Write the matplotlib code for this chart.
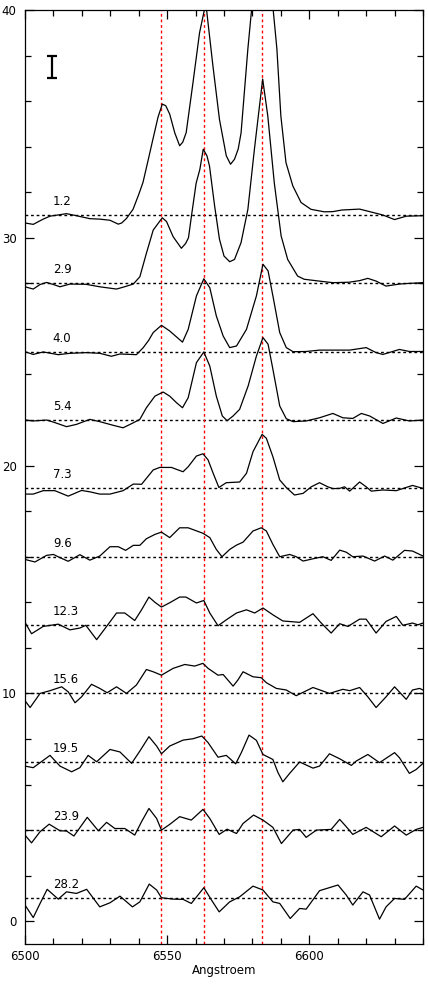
import numpy as np
import matplotlib
matplotlib.use('Agg')
import matplotlib.pyplot as plt
from matplotlib.ticker import MultipleLocator

# baseline offsets and labels of the stacked spectra
offsets = [31, 28, 25, 22, 19, 16, 13, 10, 7, 4, 1]
labels = ['1.2', '2.9', '4.0', '5.4', '7.3', '9.6', '12.3', '15.6', '19.5', '23.9', '28.2']

# line positions (Angstroem)
lines_black = [6548.0, 6562.8]
line_red = 6583.4

# spectra: wavelength, flux relative to baseline
w1 = [6500, 6502.9, 6506.4, 6508.8, 6511.5, 6514.6, 6518.1, 6522.8, 6526.3, 6529.9, 6532.8, 6534.0,
      6535.7, 6538.0, 6540.0, 6541.5, 6543.3, 6545.0, 6546.8, 6548.3, 6549.5, 6550.9, 6552.7, 6554.4,
      6555.5, 6556.7, 6559.1, 6561.4, 6563.6, 6566.1, 6568.4, 6570.8, 6572.3, 6573.7, 6575.0, 6576.0,
      6578.4, 6583.5, 6588.6, 6590.0, 6591.8, 6594.2, 6597.1, 6600.6, 6605.3, 6608.3, 6611.5, 6617.7,
      6621.2, 6625.9, 6630.0, 6634.1, 6640]
f1 = [-0.35, -0.41, -0.18, -0.05, 0.0, 0.06, -0.03, -0.16, -0.18, -0.23, -0.40, -0.35,
      -0.15, 0.25, 0.9, 1.43, 2.4, 3.33, 4.3, 4.87, 4.8, 4.43, 3.6, 3.04,
      3.2, 3.62, 5.82, 8.0, 9.3, 6.55, 4.2, 2.6, 2.23, 2.45, 2.9, 3.6,
      7.3, 14.0, 7.3, 4.35, 2.3, 1.28, 0.55, 0.25, 0.14, 0.15, 0.22, 0.26,
      0.15, 0.0, -0.2, -0.05, -0.03]

w2 = [6500, 6502.9, 6505.3, 6507.6, 6510.0, 6512.3, 6515.8, 6521.4, 6526.3, 6532.2, 6535.0, 6538.1,
      6540.4, 6542.7, 6545.1, 6548.3, 6549.8, 6552.1, 6555.0, 6556.5, 6557.5, 6558.6, 6560.2, 6561.5,
      6562.7, 6564.0, 6564.9, 6566.7, 6568.4, 6570.0, 6572.0, 6573.7, 6576.0, 6578.4, 6580.7, 6583.6,
      6585.4, 6587.7, 6590.1, 6592.4, 6595.9, 6598.2, 6603.5, 6608.3, 6614.0, 6617.7, 6620.6, 6623.5,
      6627.0, 6631.7, 6635.2, 6640]
f2 = [-0.15, -0.25, -0.05, 0.04, -0.05, -0.15, -0.03, -0.04, -0.15, -0.25, -0.15, -0.03,
      0.29, 1.32, 2.34, 2.88, 2.71, 2.05, 1.54, 1.75, 2.0, 3.0, 4.4, 5.0,
      5.89, 5.6, 5.15, 3.4, 1.94, 1.2, 0.95, 1.05, 1.79, 3.25, 5.89, 8.97,
      7.35, 4.4, 2.08, 1.05, 0.32, 0.18, 0.1, 0.03, 0.05, 0.12, 0.22, 0.1,
      -0.12, -0.03, 0.0, 0.03]

w3 = [6500, 6502.9, 6506.4, 6511.7, 6515.8, 6521.7, 6526.3, 6530.4, 6533.4, 6539.2, 6541.6, 6543.5,
      6545.1, 6548.0, 6550.9, 6555.4, 6557.4, 6560.3, 6562.9, 6565.0, 6567.3, 6569.7, 6572.0, 6574.4,
      6577.9, 6581.4, 6583.7, 6585.5, 6587.2, 6589.6, 6591.9, 6594.3, 6598.9, 6603.6, 6608.3, 6614.2,
      6620.0, 6623.5, 6625.9, 6631.7, 6635.2, 6640]
f3 = [0.0, -0.12, -0.01, -0.13, -0.07, -0.04, -0.07, -0.2, -0.10, -0.13, 0.18, 0.5,
      0.84, 1.16, 0.91, 0.42, 0.98, 2.45, 3.2, 2.81, 1.57, 0.69, 0.18, 0.25,
      0.98, 2.45, 3.84, 3.55, 2.45, 0.84, 0.18, 0.0, 0.01, 0.07, 0.07, 0.07,
      0.18, -0.04, -0.12, 0.1, 0.01, 0.01]

w4 = [6500, 6502.9, 6507.6, 6510.0, 6514.6, 6518.1, 6522.8, 6526.3, 6531.0, 6534.5, 6538.1, 6540.4,
      6542.7, 6545.7, 6548.6, 6550.9, 6553.3, 6555.4, 6557.4, 6560.3, 6562.9, 6565.0, 6567.3, 6569.4,
      6571.1, 6573.2, 6575.5, 6578.5, 6581.4, 6583.7, 6585.5, 6587.2, 6589.6, 6591.9, 6594.3, 6598.9,
      6603.6, 6608.3, 6611.8, 6615.3, 6618.3, 6621.2, 6625.9, 6630.6, 6635.2, 6640]
f4 = [0.0, -0.04, 0.0, -0.09, -0.29, -0.19, 0.03, -0.07, -0.23, -0.34, -0.12, 0.03,
      0.54, 1.05, 1.23, 1.05, 0.76, 0.54, 0.98, 2.52, 2.99, 2.37, 1.05, 0.18,
      -0.03, 0.18, 0.47, 1.5, 2.81, 3.62, 3.33, 2.23, 0.62, 0.06, -0.07, -0.04,
      0.1, 0.29, 0.1, 0.07, 0.29, 0.18, -0.15, 0.09, -0.04, 0.0]

w5 = [6500, 6502.9, 6506.4, 6510.5, 6515.2, 6519.9, 6522.8, 6526.3, 6529.9, 6534.5, 6538.1, 6541.0,
      6545.1, 6547.4, 6551.5, 6555.6, 6557.4, 6560.3, 6562.6, 6564.4, 6566.2, 6568.2, 6570.8, 6575.5,
      6577.9, 6580.2, 6583.4, 6584.9, 6587.2, 6589.6, 6591.9, 6594.8, 6597.8, 6600.7, 6603.6, 6606.5,
      6608.3, 6610.7, 6612.4, 6614.2, 6617.7, 6620.0, 6621.8, 6625.9, 6630.6, 6636.3, 6640]
f5 = [-0.25, -0.25, -0.1, -0.1, -0.34, -0.09, -0.15, -0.25, -0.25, -0.1, 0.19, 0.18,
      0.81, 0.92, 0.92, 0.73, 0.95, 1.42, 1.52, 1.25, 0.66, 0.04, 0.25, 0.28,
      0.66, 1.61, 2.37, 2.2, 1.39, 0.37, 0.04, -0.29, -0.22, 0.07, 0.25, 0.07,
      -0.01, 0.0, 0.07, -0.12, 0.28, 0.07, -0.12, -0.07, -0.1, 0.13, 0.0]

w6 = [6500, 6503.5, 6507.6, 6510.0, 6512.3, 6515.2, 6519.3, 6522.8, 6526.3, 6529.9, 6532.8, 6535.4,
      6538.1, 6540.4, 6542.7, 6545.7, 6548.0, 6550.9, 6554.4, 6557.4, 6562.6, 6565.0, 6567.3, 6569.3,
      6572.0, 6574.4, 6576.7, 6580.2, 6583.1, 6584.9, 6587.2, 6589.6, 6593.1, 6595.4, 6597.8, 6601.3,
      6604.8, 6607.7, 6610.7, 6613.0, 6615.3, 6618.9, 6623.0, 6626.5, 6629.4, 6633.5, 6636.3, 6640]
f6 = [-0.12, -0.23, 0.06, 0.1, -0.04, -0.2, 0.09, -0.15, 0.03, 0.44, 0.44, 0.28,
      0.5, 0.5, 0.79, 0.98, 1.08, 0.84, 1.27, 1.27, 1.03, 0.84, 0.32, 0.0,
      0.32, 0.51, 0.64, 1.13, 1.27, 1.13, 0.54, 0.0, 0.1, 0.0, -0.19, -0.09,
      0.0, -0.16, 0.29, 0.2, 0.0, 0.03, -0.19, 0.03, -0.15, 0.28, 0.25, 0.03]

w7 = [6500, 6502.3, 6506.4, 6511.7, 6515.8, 6519.3, 6521.4, 6525.2, 6528.7, 6532.2, 6535.1, 6538.6,
      6541.0, 6543.6, 6545.7, 6548.0, 6550.9, 6554.4, 6556.6, 6560.3, 6562.9, 6565.0, 6567.9, 6570.8,
      6574.4, 6577.9, 6580.8, 6583.7, 6587.2, 6590.7, 6596.6, 6601.3, 6604.2, 6607.7, 6610.7, 6613.6,
      6617.7, 6620.0, 6623.5, 6627.0, 6630.6, 6632.9, 6636.3, 6638.2, 6640]
f7 = [0.12, -0.38, -0.06, 0.04, -0.21, -0.13, -0.01, -0.64, -0.06, 0.53, 0.53, 0.2,
      0.67, 1.23, 1.0, 0.79, 0.98, 1.23, 1.23, 0.97, 1.08, 0.53, -0.03, 0.23,
      0.53, 0.67, 0.53, 0.75, 0.45, 0.18, 0.12, 0.5, 0.09, -0.35, 0.06, -0.06,
      0.26, 0.26, -0.35, 0.16, 0.38, -0.01, 0.09, 0.01, 0.09]

w8 = [6500, 6501.8, 6505.3, 6508.8, 6512.9, 6515.2, 6517.6, 6519.9, 6523.4, 6526.3, 6528.9, 6532.2,
      6535.7, 6539.2, 6542.7, 6545.1, 6548.0, 6552.1, 6556.2, 6559.7, 6562.6, 6564.4, 6567.9, 6569.7,
      6573.2, 6574.9, 6576.7, 6580.2, 6583.1, 6584.9, 6588.4, 6591.9, 6595.4, 6601.3, 6607.1, 6611.8,
      6614.2, 6617.7, 6620.6, 6623.5, 6627.0, 6630.0, 6634.1, 6636.3, 6638.8, 6640]
f8 = [-0.32, -0.62, 0.0, 0.12, 0.29, 0.07, -0.41, -0.15, 0.4, 0.22, 0.03, 0.29,
      0.0, 0.37, 1.05, 0.95, 0.8, 1.1, 1.27, 1.2, 1.32, 1.1, 0.8, 0.83,
      0.32, 0.59, 0.95, 0.73, 0.69, 0.47, 0.22, 0.15, -0.1, 0.26, 0.0, 0.18,
      0.12, 0.26, -0.15, -0.62, -0.15, 0.29, -0.26, 0.15, 0.22, 0.15]

w9 = [6500, 6502.9, 6505.3, 6508.8, 6512.3, 6516.4, 6519.3, 6522.2, 6525.2, 6529.9, 6533.4, 6537.5,
      6540.4, 6543.6, 6546.3, 6548.0, 6550.9, 6555.6, 6559.1, 6562.2, 6564.4, 6567.9, 6570.8, 6574.1,
      6576.1, 6578.8, 6581.4, 6583.7, 6587.2, 6589.0, 6590.7, 6593.1, 6596.6, 6601.3, 6603.6, 6607.1,
      6610.7, 6614.8, 6616.5, 6620.6, 6624.7, 6630.0, 6631.7, 6635.2, 6637.6, 6640]
f9 = [-0.19, -0.26, -0.04, 0.28, -0.19, -0.44, -0.26, 0.28, 0.0, 0.54, 0.43, -0.07,
      0.47, 1.1, 0.69, 0.35, 0.69, 0.95, 1.01, 1.13, 0.84, 0.2, 0.28, -0.09,
      0.4, 1.17, 0.94, 0.32, 0.1, -0.48, -0.88, -0.51, -0.01, -0.28, -0.19, 0.35,
      0.13, -0.16, 0.03, 0.32, -0.04, 0.4, 0.18, -0.51, -0.34, -0.07]

w10 = [6500, 6502.3, 6505.3, 6508.5, 6512.3, 6514.6, 6517.2, 6521.9, 6525.8, 6528.7, 6531.6, 6535.1,
       6538.6, 6541.0, 6543.6, 6546.3, 6548.0, 6550.9, 6554.4, 6558.5, 6562.6, 6565.0, 6568.3, 6571.1,
       6574.4, 6576.7, 6580.4, 6583.7, 6587.2, 6590.2, 6594.3, 6596.6, 6598.9, 6602.5, 6607.7, 6610.7,
       6613.0, 6615.3, 6620.0, 6625.3, 6630.0, 6634.1, 6637.6, 6640]
f10 = [-0.22, -0.56, -0.07, 0.26, -0.03, -0.04, -0.26, 0.56, -0.03, 0.34, 0.07, 0.07,
       -0.22, 0.37, 0.95, 0.51, 0.0, 0.25, 0.59, 0.44, 0.91, 0.51, -0.19, 0.04,
       -0.15, 0.29, 0.66, 0.44, 0.12, -0.59, 0.0, 0.03, -0.32, 0.0, 0.03, 0.47,
       0.15, -0.19, 0.12, -0.29, 0.18, -0.22, 0.03, 0.12]

w11 = [6500, 6502.9, 6505.3, 6507.8, 6511.7, 6514.6, 6518.1, 6521.7, 6526.3, 6529.9, 6533.4, 6537.8,
       6540.4, 6543.7, 6546.3, 6548.0, 6552.1, 6555.6, 6558.5, 6562.9, 6565.6, 6568.3, 6572.0, 6575.5,
       6580.2, 6583.7, 6587.2, 6589.6, 6593.3, 6596.6, 6598.9, 6603.6, 6610.1, 6613.0, 6615.3, 6618.9,
       6621.2, 6624.7, 6627.0, 6630.0, 6633.5, 6637.6, 6640]
f11 = [-0.29, -0.84, -0.22, 0.4, -0.03, 0.29, 0.22, 0.4, -0.37, -0.19, 0.1, -0.37,
       -0.15, 0.63, 0.37, 0.03, -0.03, -0.04, -0.22, 0.47, -0.07, -0.59, -0.15, 0.07,
       0.54, 0.37, -0.15, -0.22, -0.88, -0.44, -0.47, 0.34, 0.59, 0.15, -0.29, 0.29,
       0.15, -0.91, -0.37, 0.0, -0.04, 0.54, 0.37]

waves = [w1, w2, w3, w4, w5, w6, w7, w8, w9, w10, w11]
fluxes = [f1, f2, f3, f4, f5, f6, f7, f8, f9, f10, f11]

plt.rcParams['font.family'] = 'DejaVu Sans'
fig = plt.figure(figsize=(4.28, 9.84), dpi=100)
ax = fig.add_axes([25/428, 40/984, 398/428, 934/984])

for w, f, off, lab in zip(waves, fluxes, offsets, labels):
    ax.axhline(off, color='k', lw=1.0, ls=(0, (2, 2)), zorder=1)
    ax.plot(w, np.array(f) + off, color='k', lw=0.9, zorder=3)
    ax.text(6509.8, off + 0.6, lab, fontsize=8.5, ha='left', va='center')

for xl in lines_black + [line_red]:
    ax.axvline(xl, color='red', lw=1.0, ls=(0, (2, 2)), zorder=2)

# error bar
ax.errorbar([6509.6], [37.5], yerr=[0.5], color='k', lw=1.6, capsize=3.5, capthick=1.6)

ax.set_xlim(6500, 6640)
ax.set_ylim(-1, 40)
ax.xaxis.set_major_locator(MultipleLocator(50))
ax.xaxis.set_minor_locator(MultipleLocator(10))
ax.yaxis.set_major_locator(MultipleLocator(10))
ax.yaxis.set_minor_locator(MultipleLocator(2))
ax.tick_params(which='both', direction='in', top=True, right=True, labelsize=8.5, width=0.9)
ax.tick_params(which='major', length=6.5, pad=4)
ax.tick_params(which='minor', length=4)
ax.tick_params(axis='y', pad=6)
for s in ax.spines.values():
    s.set_linewidth(0.9)
ax.set_xlabel('Angstroem', fontsize=8.5, labelpad=1)

fig.savefig('out.png', dpi=100)
